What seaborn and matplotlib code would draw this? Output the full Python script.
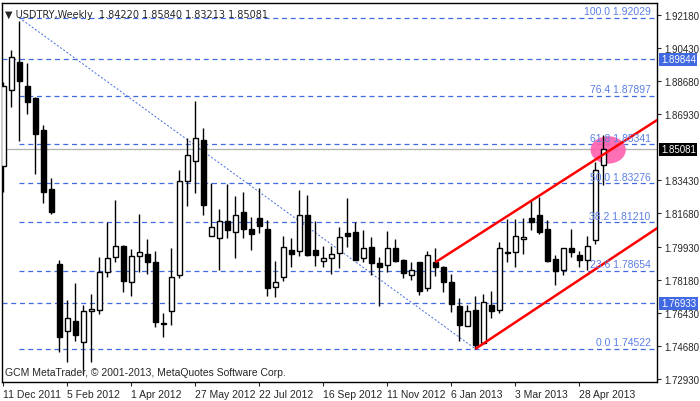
import numpy as np
import pandas as pd
import matplotlib
matplotlib.use('Agg')
import matplotlib.pyplot as plt
import seaborn as sns
from matplotlib.patches import Ellipse

# Weekly USDTRY candles
opens = [1.8418, 1.8821, 1.8971, 1.8841, 1.8777, 1.8610, 1.8298, 1.7901, 1.7548, 1.7598,
         1.7487, 1.7651, 1.7659, 1.7857, 1.7936, 1.7998, 1.7808, 1.7942, 1.7954, 1.7910,
         1.7584, 1.7651, 1.7845, 1.8338, 1.8448, 1.8557, 1.8051, 1.8037, 1.8130, 1.8069,
         1.8178, 1.8086, 1.8144, 1.8086, 1.7778, 1.7830, 1.7975, 1.7972, 1.8160, 1.7975,
         1.7919, 1.7931, 1.7957, 1.8063, 1.8069, 1.7931, 1.7989, 1.7905, 1.7898, 1.7986,
         1.7924, 1.7845, 1.7910, 1.7772, 1.7910, 1.7883, 1.7804, 1.7677, 1.7575, 1.7658,
         1.7481, 1.7684, 1.7659, 1.7960, 1.7963, 1.8033, 1.8144, 1.8160, 1.8086, 1.7927,
         1.7869, 1.7984, 1.7949, 1.7924, 1.8028, 1.84220]
closes = [1.8841, 1.8994, 1.8871, 1.8760, 1.8589, 1.8280, 1.8174, 1.7513, 1.7614, 1.7527,
          1.7651, 1.7663, 1.7857, 1.7933, 1.7994, 1.7813, 1.7942, 1.7963, 1.7913, 1.7593,
          1.7587, 1.7830, 1.8342, 1.8478, 1.8566, 1.8215, 1.8095, 1.8127, 1.8083, 1.8160,
          1.8086, 1.8060, 1.8100, 1.7772, 1.7804, 1.7989, 1.7954, 1.8160, 1.7949, 1.7949,
          1.7933, 1.7954, 1.8042, 1.8051, 1.7924, 1.7986, 1.7905, 1.7883, 1.7986, 1.7919,
          1.7853, 1.7871, 1.7760, 1.7950, 1.7883, 1.7808, 1.7690, 1.7580, 1.7654, 1.7474,
          1.7698, 1.7654, 1.7984, 1.7963, 1.8047, 1.8042, 1.8125, 1.8072, 1.7915, 1.7866,
          1.7986, 1.7963, 1.7924, 1.7994, 1.8398, 1.85081]
highs = [1.8862, 1.9035, 1.9188, 1.8964, 1.8782, 1.8636, 1.8356, 1.7922, 1.7711, 1.7801,
         1.7686, 1.7742, 1.7940, 1.8121, 1.8239, 1.8002, 1.7980, 1.8166, 1.8033, 1.7972,
         1.7642, 1.7986, 1.8398, 1.8566, 1.8765, 1.8620, 1.8329, 1.8192, 1.8324, 1.8262,
         1.8280, 1.8148, 1.8303, 1.8134, 1.7919, 1.8051, 1.8038, 1.8292, 1.8266, 1.8127,
         1.7998, 1.7998, 1.8098, 1.8250, 1.8121, 1.8083, 1.8045, 1.7940, 1.8074, 1.8033,
         1.7927, 1.7910, 1.7910, 1.7968, 1.7986, 1.7892, 1.7848, 1.7721, 1.7686, 1.7734,
         1.7742, 1.7760, 1.8016, 1.8139, 1.8139, 1.8142, 1.8239, 1.8254, 1.8134, 1.7949,
         1.7986, 1.8086, 1.7972, 1.8047, 1.8441, 1.85840]
lows = [1.8284, 1.8730, 1.8553, 1.8694, 1.8377, 1.8224, 1.8166, 1.7437, 1.7385, 1.7496,
        1.7319, 1.7381, 1.7637, 1.7834, 1.7913, 1.7751, 1.7734, 1.7857, 1.7848, 1.7566,
        1.7513, 1.7578, 1.7827, 1.8206, 1.8275, 1.8160, 1.8047, 1.7871, 1.8038, 1.7933,
        1.8038, 1.7977, 1.8063, 1.7734, 1.7725, 1.7813, 1.7887, 1.7945, 1.7945, 1.7892,
        1.7883, 1.7848, 1.7878, 1.7989, 1.7924, 1.7910, 1.7843, 1.7681, 1.7861, 1.7910,
        1.7827, 1.7816, 1.7739, 1.7760, 1.7839, 1.7755, 1.7645, 1.7496, 1.7571, 1.7451,
        1.7478, 1.7614, 1.7642, 1.7910, 1.7887, 1.7954, 1.8083, 1.8060, 1.7910, 1.7792,
        1.7843, 1.7940, 1.7883, 1.7871, 1.8007, 1.83213]
dates = pd.date_range('2011-12-11', periods=len(opens), freq='7D')

fib_pct = ['100.0', '76.4', '61.8', '50.0', '38.2', '23.6', '0.0']
fib_levels = [1.92029, 1.87897, 1.85341, 1.83276, 1.81210, 1.78654, 1.74522]
hlines = [1.89844, 1.76933]
price_ticks = [1.92180, 1.90430, 1.88680, 1.86930, 1.83430, 1.81680,
               1.79930, 1.78180, 1.76430, 1.74680, 1.72930]
last_close = 1.85081
# channel anchors: (candle index, price)
upper_ch = [(54, 1.7910), (82.7, 1.8689)]
lower_ch = [(59, 1.74522), (82.7, 1.8118)]

sns.set_style('white')
plt.rcParams['font.family'] = ['Liberation Sans', 'DejaVu Sans']
plt.rcParams['font.size'] = 7.5

fig = plt.figure(figsize=(7, 4.02), dpi=100)
ax = fig.add_axes([2 / 700, 1 - 383 / 402, 655 / 700, 379 / 402])
xmin, xmax = -0.16, 81.7
ymin, ymax = 1.7277, 1.9281
ax.set_xlim(xmin, xmax)
ax.set_ylim(ymin, ymax)

blue = '#4169e1'
fib_x0 = 2
for lv in fib_levels:
    ax.hlines(lv, fib_x0, xmax, colors=blue, linestyles=(0, (4, 3)), lw=0.9, zorder=1)
for lv, pct in zip(fib_levels, fib_pct):
    ax.text(80.9, lv + 0.0008, f'{pct} {lv:.5f}', color='#5b7fe6', ha='right',
            va='bottom', zorder=6)
for lv in hlines:
    ax.hlines(lv, xmin, xmax, colors=blue, linestyles=(0, (4, 3)), lw=0.9, zorder=1)
ax.axhline(last_close, color='#b0b0b0', lw=0.9, zorder=1)

# dotted trend line from top to bottom of swing
ax.plot([2, 59], [fib_levels[0], fib_levels[-1]], color=blue, ls=(0, (2, 2)), lw=0.7, zorder=1)

# candles
idx = np.arange(len(opens))
o, c, h, l = map(np.array, (opens, closes, highs, lows))
ax.vlines(idx, l, h, colors='black', lw=1, zorder=3)
up = c >= o
bw = 0.6
ax.bar(idx[up], (c - o)[up], bottom=o[up], width=bw, color='white',
       edgecolor='black', lw=1, zorder=4)
ax.bar(idx[~up], (o - c)[~up], bottom=c[~up], width=bw, color='black',
       edgecolor='black', lw=1, zorder=4)

# marker ellipse on last candle
ax.add_patch(Ellipse((75.6, 1.8504), width=4.4, height=0.0145, color='#ff5fae',
                     alpha=0.9, lw=0, zorder=2))

# red channel
for pts in (upper_ch, lower_ch):
    ax.plot([p[0] for p in pts], [p[1] for p in pts], color='red', lw=1.8, zorder=5,
            solid_capstyle='butt')

# y axis on the right
ax.yaxis.tick_right()
ax.set_yticks(price_ticks)
ax.set_yticklabels([f'{t:.5f}' for t in price_ticks])
ax.tick_params(axis='y', direction='out', length=3, pad=2, right=True, labelsize=7)
for lv, bg, fg in [(1.89844, blue, 'white'), (1.76933, blue, 'white'), (last_close, 'black', 'white')]:
    ax.text(1.006, (lv - ymin) / (ymax - ymin), f'{lv:.5f}', transform=ax.transAxes,
            ha='left', va='center', color=fg, fontsize=7,
            bbox=dict(boxstyle='square,pad=0.15', fc=bg, ec='none'))

xt = idx[::8]
ax.set_xticks(xt)
ax.set_xticklabels([f'{d.day} {d.strftime("%b %Y")}' for d in dates[::8]], ha='left')
ax.tick_params(axis='x', direction='out', length=3, pad=2, bottom=True)

for s in ax.spines.values():
    s.set_color('black')
    s.set_linewidth(1)

ax.text(0.005, 0.985, '\u25bc USDTRY,Weekly  1.84220 1.85840 1.83213 1.85081',
        transform=ax.transAxes, ha='left', va='top', family=['DejaVu Sans'], fontsize=7)
ax.text(0.005, 0.012, 'GCM MetaTrader, \u00a9 2001-2013, MetaQuotes Software Corp.',
        transform=ax.transAxes, ha='left', va='bottom')

fig.savefig('out.png', dpi=100, facecolor='white')
